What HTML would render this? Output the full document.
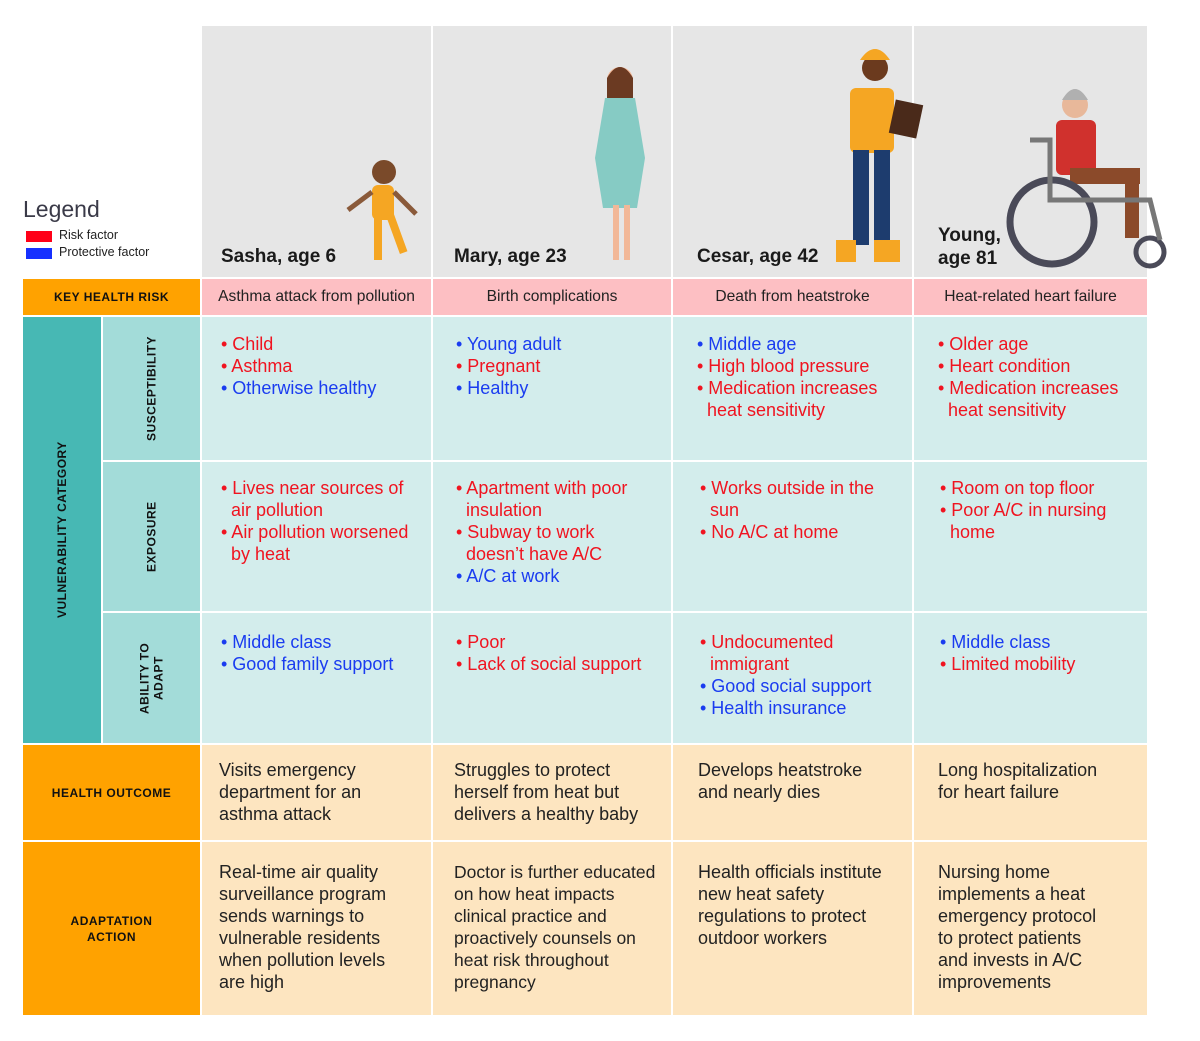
<!DOCTYPE html>
<html><head><meta charset="utf-8"><style>
body{margin:0;width:1200px;height:1041px;background:#fff;position:relative;font-family:"Liberation Sans",sans-serif;overflow:hidden}
.b{position:absolute;box-sizing:border-box}
.t{position:absolute;font-size:18px;line-height:22px;color:#222}
.r{color:#f01420}.p{color:#1a3cf0}
.lab{position:absolute;font-size:12px;font-weight:bold;color:#111;text-align:center;letter-spacing:0.5px;display:flex;align-items:center;justify-content:center}
.name{position:absolute;font-size:19px;font-weight:bold;color:#1a1a1a}
.kr{position:absolute;font-size:15.6px;color:#222;text-align:center;top:279px;height:36px;line-height:36px}
.v{writing-mode:vertical-rl;transform:rotate(180deg)}
.c1{left:202px;width:229px}.c2{left:433px;width:238px}.c3{left:673px;width:239px}.c4{left:914px;width:233px}
.pk{top:279px;height:36px;background:#fdbfc3}
.s{top:317px;height:143px;background:#d3edec}.e{top:462px;height:149px;background:#d3edec}.a{top:613px;height:130px;background:#d3edec}
.o{top:745px;height:95px;background:#fde5c0}.ad{top:842px;height:173px;background:#fde5c0}
</style></head><body>
<div class="b" style="left:202px;top:26px;width:229px;height:251px;background:#e6e6e6"></div>
<div class="b" style="left:433px;top:26px;width:238px;height:251px;background:#e6e6e6"></div>
<div class="b" style="left:673px;top:26px;width:239px;height:251px;background:#e6e6e6"></div>
<div class="b" style="left:914px;top:26px;width:233px;height:251px;background:#e6e6e6"></div>
<svg class="b" style="left:0;top:0" width="1200" height="280">
<g><circle cx="384" cy="172" r="12" fill="#7a4a2a"/><rect x="372" y="185" width="22" height="35" rx="6" fill="#f5a623"/><rect x="374" y="215" width="8" height="45" fill="#f5a623"/><rect x="386" y="215" width="8" height="40" fill="#f5a623" transform="rotate(-20 390 215)"/><line x1="372" y1="192" x2="348" y2="210" stroke="#8a5a3a" stroke-width="5"/><line x1="394" y1="192" x2="416" y2="214" stroke="#8a5a3a" stroke-width="5"/></g>
<g><circle cx="620" cy="80" r="13" fill="#f2b898"/><path d="M607 78 q13 -22 26 0 v20 h-26z" fill="#6b3a22"/><path d="M605 98 h30 l10 60 l-8 50 h-34 l-8 -50z" fill="#86cbc4"/><rect x="613" y="205" width="6" height="55" fill="#f2b898"/><rect x="624" y="205" width="6" height="55" fill="#f2b898"/></g>
<g><circle cx="875" cy="68" r="13" fill="#6b3a1e"/><path d="M860 60 q15 -22 30 0z" fill="#f5a623"/><rect x="850" y="88" width="44" height="65" rx="6" fill="#f5a623"/><rect x="853" y="150" width="16" height="95" fill="#1d3c6e"/><rect x="874" y="150" width="16" height="95" fill="#1d3c6e"/><rect x="836" y="240" width="20" height="22" fill="#f5a623"/><rect x="874" y="240" width="26" height="22" fill="#f5a623"/><rect x="892" y="102" width="28" height="34" fill="#4a2a1a" transform="rotate(12 906 119)"/></g>
<g><circle cx="1075" cy="105" r="13" fill="#e8b89a"/><path d="M1062 100 q13 -22 26 0z" fill="#b0b0b0"/><rect x="1056" y="120" width="40" height="55" rx="6" fill="#d0312d"/><rect x="1070" y="168" width="70" height="16" fill="#8b4a2a"/><rect x="1125" y="178" width="14" height="60" fill="#8b4a2a"/><circle cx="1052" cy="222" r="42" fill="none" stroke="#4a4a58" stroke-width="7"/><circle cx="1150" cy="252" r="14" fill="none" stroke="#4a4a58" stroke-width="5"/><path d="M1030 140 h20 v60 h100 l10 40" fill="none" stroke="#777" stroke-width="5"/></g>
</svg>
<div style="position:absolute;left:23px;top:196px;font-size:23px;color:#3a3a48">Legend</div>
<div class="b" style="left:26px;top:231px;width:26px;height:11px;background:#ff0018"></div>
<div class="b" style="left:26px;top:248px;width:26px;height:11px;background:#1630ff"></div>
<div style="position:absolute;left:59px;top:228px;font-size:12.5px;color:#222">Risk factor</div>
<div style="position:absolute;left:59px;top:245px;font-size:12.5px;color:#222">Protective factor</div>
<div class="name" style="left:221px;top:246px">Sasha, age 6</div>
<div class="name" style="left:454px;top:246px">Mary, age 23</div>
<div class="name" style="left:697px;top:246px">Cesar, age 42</div>
<div class="name" style="left:938px;top:224px;line-height:23px">Young,<br>age 81</div>
<div class="b" style="left:23px;top:279px;width:177px;height:36px;background:#ffa200"></div>
<div class="lab" style="left:23px;top:279px;width:177px;height:36px">KEY HEALTH RISK</div>
<div class="b" style="left:23px;top:317px;width:78px;height:426px;background:#47b8b4"></div>
<div class="lab v" style="left:23px;top:317px;width:78px;height:426px">VULNERABILITY CATEGORY</div>
<div class="b" style="left:103px;top:317px;width:97px;height:143px;background:#a3dcd9"></div>
<div class="b" style="left:103px;top:462px;width:97px;height:149px;background:#a3dcd9"></div>
<div class="b" style="left:103px;top:613px;width:97px;height:130px;background:#a3dcd9"></div>
<div class="lab v" style="left:103px;top:317px;width:97px;height:143px">SUSCEPTIBILITY</div>
<div class="lab v" style="left:103px;top:462px;width:97px;height:149px">EXPOSURE</div>
<div class="lab v" style="left:103px;top:613px;width:97px;height:130px;line-height:14px">ABILITY TO<br>ADAPT</div>
<div class="b" style="left:23px;top:745px;width:177px;height:95px;background:#ffa200"></div>
<div class="lab" style="left:23px;top:745px;width:177px;height:95px">HEALTH OUTCOME</div>
<div class="b" style="left:23px;top:842px;width:177px;height:173px;background:#ffa200"></div>
<div class="lab" style="left:23px;top:842px;width:177px;height:173px;line-height:16px">ADAPTATION<br>ACTION</div>
<div class="b c1 pk"></div><div class="b c2 pk"></div><div class="b c3 pk"></div><div class="b c4 pk"></div>
<div class="b c1 s"></div><div class="b c2 s"></div><div class="b c3 s"></div><div class="b c4 s"></div>
<div class="b c1 e"></div><div class="b c2 e"></div><div class="b c3 e"></div><div class="b c4 e"></div>
<div class="b c1 a"></div><div class="b c2 a"></div><div class="b c3 a"></div><div class="b c4 a"></div>
<div class="b c1 o"></div><div class="b c2 o"></div><div class="b c3 o"></div><div class="b c4 o"></div>
<div class="b c1 ad"></div><div class="b c2 ad"></div><div class="b c3 ad"></div><div class="b c4 ad"></div>
<div class="kr c1">Asthma attack from pollution</div>
<div class="kr c2">Birth complications</div>
<div class="kr c3">Death from heatstroke</div>
<div class="kr c4">Heat-related heart failure</div>
<div class="t" style="left:221px;top:333px"><span class="r">• Child<br>• Asthma</span><br><span class="p">• Otherwise healthy</span></div>
<div class="t" style="left:456px;top:333px"><span class="p">• Young adult</span><br><span class="r">• Pregnant</span><br><span class="p">• Healthy</span></div>
<div class="t" style="left:697px;top:333px"><span class="p">• Middle age</span><br><span class="r">• High blood pressure<br>• Medication increases<br>&nbsp;&nbsp;heat sensitivity</span></div>
<div class="t" style="left:938px;top:333px"><span class="r">• Older age<br>• Heart condition<br>• Medication increases<br>&nbsp;&nbsp;heat sensitivity</span></div>
<div class="t r" style="left:221px;top:477px">• Lives near sources of<br>&nbsp;&nbsp;air pollution<br>• Air pollution worsened<br>&nbsp;&nbsp;by heat</div>
<div class="t" style="left:456px;top:477px"><span class="r">• Apartment with poor<br>&nbsp;&nbsp;insulation<br>• Subway to work<br>&nbsp;&nbsp;doesn’t have A/C</span><br><span class="p">• A/C at work</span></div>
<div class="t r" style="left:700px;top:477px">• Works outside in the<br>&nbsp;&nbsp;sun<br>• No A/C at home</div>
<div class="t r" style="left:940px;top:477px">• Room on top floor<br>• Poor A/C in nursing<br>&nbsp;&nbsp;home</div>
<div class="t p" style="left:221px;top:631px">• Middle class<br>• Good family support</div>
<div class="t r" style="left:456px;top:631px">• Poor<br>• Lack of social support</div>
<div class="t" style="left:700px;top:631px"><span class="r">• Undocumented<br>&nbsp;&nbsp;immigrant</span><br><span class="p">• Good social support<br>• Health insurance</span></div>
<div class="t p" style="left:940px;top:631px">• Middle class<br><span class="r">• Limited mobility</span></div>
<div class="t" style="left:219px;top:759px">Visits emergency<br>department for an<br>asthma attack</div>
<div class="t" style="left:454px;top:759px">Struggles to protect<br>herself from heat but<br>delivers a healthy baby</div>
<div class="t" style="left:698px;top:759px">Develops heatstroke<br>and nearly dies</div>
<div class="t" style="left:938px;top:759px">Long hospitalization<br>for heart failure</div>
<div class="t" style="left:219px;top:861px">Real-time air quality<br>surveillance program<br>sends warnings to<br>vulnerable residents<br>when pollution levels<br>are high</div>
<div class="t" style="left:454px;top:861px;font-size:17.5px">Doctor is further educated<br>on how heat impacts<br>clinical practice and<br>proactively counsels on<br>heat risk throughout<br>pregnancy</div>
<div class="t" style="left:698px;top:861px">Health officials institute<br>new heat safety<br>regulations to protect<br>outdoor workers</div>
<div class="t" style="left:938px;top:861px">Nursing home<br>implements a heat<br>emergency protocol<br>to protect patients<br>and invests in A/C<br>improvements</div>
</body></html>
